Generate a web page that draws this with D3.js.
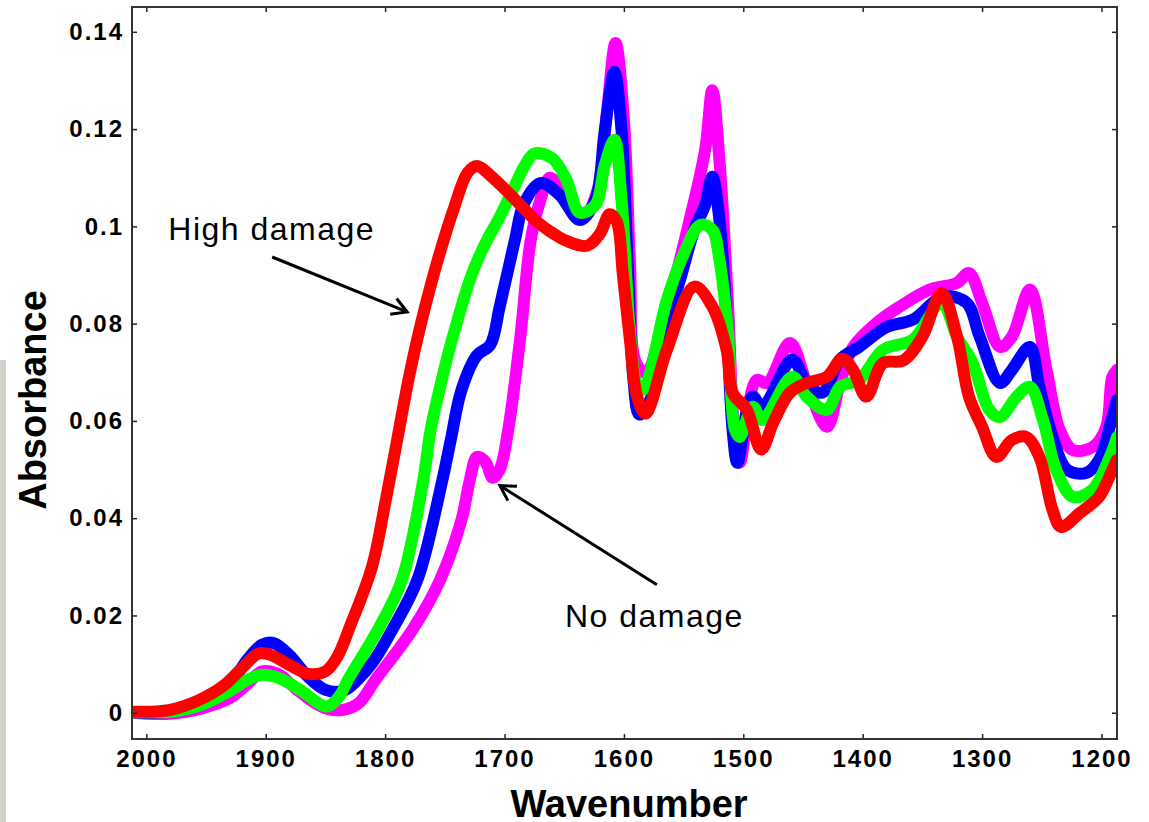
<!DOCTYPE html>
<html>
<head>
<meta charset="utf-8">
<script src="https://cdn.jsdelivr.net/npm/d3@7"></script>
<style>
  body { margin: 0; background: #fff; }
  svg { display: block; }
  .tick text { font-family: "Liberation Sans", Arial, sans-serif; font-weight: bold; font-size: 24px; letter-spacing: 2px; fill: #000; }
  .tick line { stroke: #222; stroke-width: 1.5; }
  .axis-title { font-family: "Liberation Sans", Arial, sans-serif; font-weight: bold; font-size: 38px; fill: #000; }
  .note { font-family: "Liberation Sans", Arial, sans-serif; font-size: 32px; letter-spacing: 1.5px; fill: #000; }
</style>
</head>
<body>
<svg width="1149" height="822"></svg>
<script>
var svg = d3.select('svg');

// tick values / labels
var xTicks = [2000, 1900, 1800, 1700, 1600, 1500, 1400, 1300, 1200];
var yTicks = [0, 0.02, 0.04, 0.06, 0.08, 0.1, 0.12, 0.14];
var yTickLabels = ['0', '0.02', '0.04', '0.06', '0.08', '0.1', '0.12', '0.14'];

// spectra: [wavenumber, absorbance]
var noDamage = [ // magenta
  [2012, 0.0000], [2000, -0.0002], [1980, -0.0002], [1955, 0.0008], [1930, 0.0030], [1915, 0.0060],
  [1903, 0.0085], [1890, 0.0080], [1875, 0.0050], [1860, 0.0022], [1848, 0.0008], [1835, 0.0006],
  [1822, 0.0020], [1808, 0.0068], [1777, 0.0171], [1754, 0.0273], [1736, 0.0397], [1729, 0.0479],
  [1723, 0.0526], [1716, 0.0516], [1710, 0.0483], [1704, 0.0500], [1697, 0.0580], [1687, 0.0767],
  [1678, 0.0972], [1670, 0.1054], [1662, 0.1100], [1650, 0.1065], [1633, 0.1024], [1622, 0.1075],
  [1614, 0.1240], [1607, 0.1377], [1600, 0.1219], [1595, 0.0931], [1590, 0.0720], [1582, 0.0700],
  [1564, 0.0830], [1545, 0.1013], [1532, 0.1157], [1526, 0.1280], [1520, 0.1137], [1513, 0.0849],
  [1507, 0.0561], [1503, 0.0514], [1489, 0.0684], [1480, 0.0678], [1461, 0.0760], [1447, 0.0678],
  [1430, 0.0588], [1419, 0.0678], [1408, 0.0752], [1388, 0.0802], [1369, 0.0835], [1344, 0.0870],
  [1321, 0.0884], [1311, 0.0904], [1300, 0.0843], [1285, 0.0752], [1275, 0.0773], [1260, 0.0870],
  [1246, 0.0705], [1235, 0.0582], [1224, 0.0540], [1207, 0.0547], [1196, 0.0588], [1191, 0.0690],
  [1187, 0.0705]
];

var lowDamage = [ // blue
  [2012, 0.0001], [2000, 0.0000], [1980, 0.0003], [1955, 0.0020], [1930, 0.0060], [1915, 0.0110],
  [1903, 0.0140], [1893, 0.0143], [1880, 0.0118], [1865, 0.0075], [1850, 0.0047], [1835, 0.0045],
  [1823, 0.0068], [1810, 0.0105], [1794, 0.0171], [1773, 0.0273], [1752, 0.0479], [1745, 0.0561],
  [1736, 0.0664], [1723, 0.0735], [1712, 0.0756], [1704, 0.0835], [1691, 0.0975], [1684, 0.1045],
  [1670, 0.1089], [1654, 0.1065], [1637, 0.1013], [1624, 0.1054], [1616, 0.1198], [1608, 0.1318],
  [1602, 0.1198], [1597, 0.0931], [1592, 0.0684], [1587, 0.0613], [1578, 0.0643], [1566, 0.0787],
  [1553, 0.0890], [1541, 0.0993], [1532, 0.1044], [1526, 0.1102], [1520, 0.1013], [1514, 0.0808],
  [1509, 0.0582], [1505, 0.0514], [1496, 0.0633], [1492, 0.0650], [1484, 0.0629], [1459, 0.0726],
  [1447, 0.0678], [1434, 0.0658], [1419, 0.0726], [1403, 0.0752], [1380, 0.0793], [1358, 0.0808],
  [1333, 0.0855], [1313, 0.0843], [1302, 0.0773], [1285, 0.0678], [1275, 0.0705], [1260, 0.0752],
  [1252, 0.0670], [1241, 0.0567], [1229, 0.0500], [1213, 0.0493], [1202, 0.0520], [1191, 0.0608],
  [1187, 0.0643]
];

var midDamage = [ // green
  [2012, 0.0001], [2000, 0.0001], [1980, 0.0002], [1955, 0.0015], [1930, 0.0045], [1915, 0.0068],
  [1903, 0.0078], [1890, 0.0072], [1870, 0.0045], [1855, 0.0018], [1848, 0.0013], [1838, 0.0035],
  [1831, 0.0068], [1806, 0.0171], [1786, 0.0273], [1768, 0.0479], [1762, 0.0580], [1752, 0.0690],
  [1744, 0.0767], [1727, 0.0904], [1714, 0.0975], [1706, 0.1010], [1693, 0.1075], [1683, 0.1125],
  [1675, 0.1150], [1660, 0.1140], [1648, 0.1095], [1637, 0.1028], [1624, 0.1044], [1616, 0.1126],
  [1608, 0.1178], [1602, 0.1054], [1595, 0.0787], [1589, 0.0674], [1584, 0.0664], [1564, 0.0849],
  [1551, 0.0937], [1536, 0.1003], [1526, 0.0993], [1520, 0.0931], [1513, 0.0787], [1507, 0.0582],
  [1503, 0.0567], [1492, 0.0629], [1484, 0.0602], [1459, 0.0691], [1447, 0.0650], [1430, 0.0623],
  [1419, 0.0670], [1403, 0.0684], [1383, 0.0746], [1358, 0.0767], [1334, 0.0843], [1321, 0.0773],
  [1308, 0.0720], [1294, 0.0623], [1285, 0.0608], [1271, 0.0650], [1260, 0.0670], [1249, 0.0602],
  [1238, 0.0500], [1224, 0.0444], [1208, 0.0458], [1193, 0.0526], [1187, 0.0567]
];

var highDamage = [ // red
  [2012, 0.0002], [2000, 0.0002], [1980, 0.0006], [1955, 0.0027], [1934, 0.0058], [1917, 0.0099],
  [1906, 0.0122], [1895, 0.0118], [1880, 0.0098], [1864, 0.0080], [1850, 0.0085], [1840, 0.0115],
  [1829, 0.0180], [1811, 0.0300], [1800, 0.0430], [1790, 0.0560], [1780, 0.0690], [1770, 0.0800],
  [1756, 0.0930], [1742, 0.1040], [1731, 0.1110], [1723, 0.1124], [1712, 0.1105], [1693, 0.1060],
  [1673, 0.1010], [1659, 0.0985], [1648, 0.0970], [1631, 0.0960], [1620, 0.0985], [1612, 0.1025],
  [1606, 0.1010], [1601, 0.0904], [1595, 0.0767], [1589, 0.0650], [1582, 0.0615], [1564, 0.0746],
  [1541, 0.0876], [1526, 0.0835], [1514, 0.0746], [1509, 0.0658], [1497, 0.0623], [1485, 0.0541],
  [1475, 0.0596], [1461, 0.0658], [1447, 0.0678], [1430, 0.0691], [1417, 0.0728], [1408, 0.0705],
  [1397, 0.0650], [1383, 0.0719], [1366, 0.0724], [1350, 0.0773], [1334, 0.0863], [1321, 0.0773],
  [1311, 0.0650], [1300, 0.0588], [1288, 0.0526], [1275, 0.0561], [1263, 0.0567], [1252, 0.0526],
  [1241, 0.0417], [1234, 0.0382], [1218, 0.0411], [1202, 0.0444], [1191, 0.0499], [1187, 0.0520]
];

// drawn back to front, red ends up on top like the original
var series = [noDamage, lowDamage, midDamage, highDamage];
var colors = ['#ff00ff', '#0000ff', '#00ff00', '#ff0000'];

var plotLeft = 132, plotRight = 1117, plotTop = 7, plotBottom = 739;

var x = d3.scaleLinear().domain([2012, 1187]).range([plotLeft, plotRight]);
var y = d3.scaleLinear().domain([-0.0054, 0.1451]).range([plotBottom, plotTop]);

// grey strip on the left edge of the scan
svg.append('rect')
  .attr('x', 0).attr('y', 360).attr('width', 6).attr('height', 462)
  .attr('fill', '#d3d3cb');

svg.append('clipPath').attr('id', 'plot')
  .append('rect')
  .attr('x', plotLeft).attr('y', plotTop)
  .attr('width', plotRight - plotLeft).attr('height', plotBottom - plotTop);

var line = d3.line()
  .x(d => x(d[0]))
  .y(d => y(d[1]))
  .curve(d3.curveCatmullRom.alpha(0.5));

svg.append('g')
  .attr('clip-path', 'url(#plot)')
  .selectAll('path')
  .data(series)
  .join('path')
    .attr('d', line)
    .attr('fill', 'none')
    .attr('stroke', (d, i) => colors[i])
    .attr('stroke-width', 12)
    .attr('stroke-linejoin', 'round')
    .attr('stroke-linecap', 'round');

// axes, ticks point inward, mirrored on top / right
var xAxis = d3.axisBottom(x).tickValues(xTicks).tickSize(-5).tickPadding(11)
  .tickFormat(d3.format('d'));
var yAxis = d3.axisLeft(y).tickValues(yTicks).tickSize(-5).tickPadding(8)
  .tickFormat((d, i) => yTickLabels[i]);

svg.append('g').attr('transform', 'translate(0,' + plotBottom + ')').call(xAxis);
svg.append('g').attr('transform', 'translate(' + plotLeft + ',0)').call(yAxis);
svg.append('g').attr('transform', 'translate(0,' + plotTop + ')')
  .call(d3.axisTop(x).tickValues(xTicks).tickSize(-5).tickFormat(''));
svg.append('g').attr('transform', 'translate(' + plotRight + ',0)')
  .call(d3.axisRight(y).tickValues(yTicks).tickSize(-5).tickFormat(''));
svg.selectAll('.domain').remove();

svg.append('rect')
  .attr('x', plotLeft).attr('y', plotTop)
  .attr('width', plotRight - plotLeft).attr('height', plotBottom - plotTop)
  .attr('fill', 'none')
  .attr('stroke', '#333')
  .attr('stroke-width', 2);

// axis titles
svg.append('text')
  .attr('class', 'axis-title')
  .attr('text-anchor', 'middle')
  .attr('x', 629).attr('y', 817)
  .text('Wavenumber');
svg.append('text')
  .attr('class', 'axis-title')
  .attr('text-anchor', 'middle')
  .attr('transform', 'translate(46,400)rotate(-90)')
  .text('Absorbance');

// annotations
function arrow(x1, y1, x2, y2) {
  var g = svg.append('g').attr('stroke', '#000').attr('stroke-width', 3).attr('fill', 'none');
  g.append('line').attr('x1', x1).attr('y1', y1).attr('x2', x2).attr('y2', y2);
  var a = Math.atan2(y2 - y1, x2 - x1), len = 17, spread = Math.PI / 6;
  g.append('path')
    .attr('stroke-linejoin', 'miter')
    .attr('d', 'M' + (x2 - len * Math.cos(a - spread)) + ',' + (y2 - len * Math.sin(a - spread)) +
      'L' + x2 + ',' + y2 +
      'L' + (x2 - len * Math.cos(a + spread)) + ',' + (y2 - len * Math.sin(a + spread)));
}

svg.append('text').attr('class', 'note')
  .attr('x', x(1981.6)).attr('y', y(0.0972))
  .text('High damage');
arrow(x(1894.6), y(0.0937), x(1781.6), y(0.0824));

svg.append('text').attr('class', 'note')
  .attr('x', x(1649.4)).attr('y', y(0.0177))
  .text('No damage');
arrow(x(1572.4), y(0.0263), x(1703.8), y(0.0467));
</script>
</body>
</html>
